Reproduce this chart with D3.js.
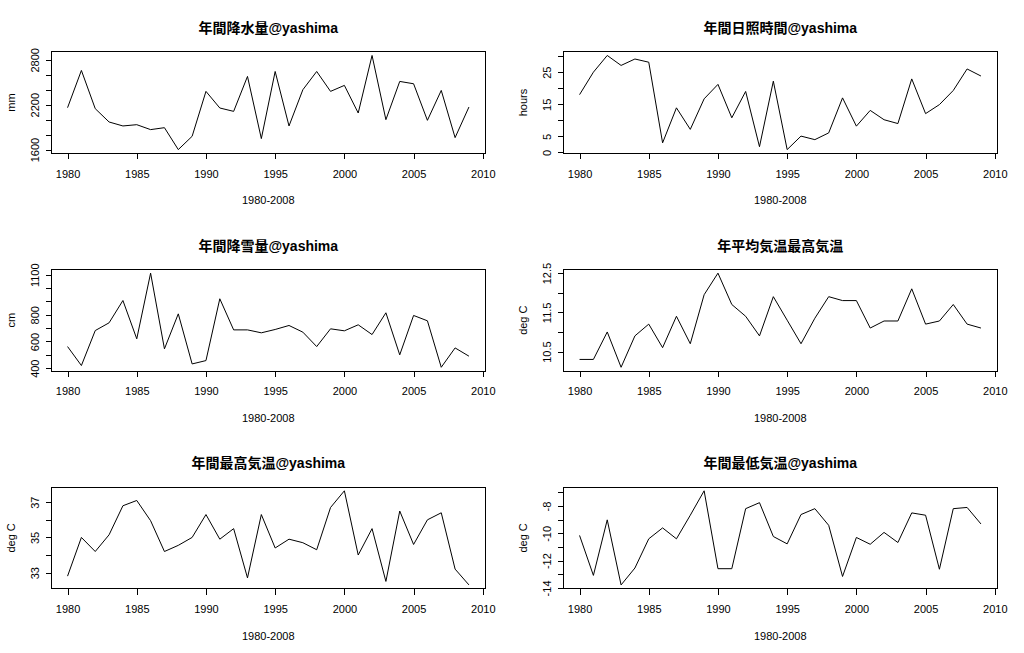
<!DOCTYPE html>
<html>
<head>
<meta charset="utf-8">
<script src="https://cdn.jsdelivr.net/npm/d3@7"></script>
<style>
  body { margin: 0; background: #fff; }
  text { font-family: "Liberation Sans", Arial, "Noto Sans CJK JP", sans-serif; fill: #000; }
  .title { font-family: "Liberation Sans", "Noto Sans CJK JP", sans-serif; font-weight: bold; font-size: 14px; }
</style>
</head>
<body>
<svg id="chart" width="1024" height="653"></svg>
<script>
// years 1980 - 2009
var years = d3.range(1980, 2010);

var rainfall = [2160, 2658, 2147, 1969, 1916, 1933, 1867, 1893, 1600, 1778,
                2378, 2156, 2111, 2578, 1747, 2644, 1916, 2400, 2644, 2378,
                2458, 2089, 2858, 2000, 2511, 2480, 1991, 2391, 1760, 2169];
var sunshine = [18.0, 25.0, 30.2, 27.1, 29.1, 28.1, 3.0, 13.9, 7.2, 16.7,
                21.2, 10.8, 19.0, 1.8, 22.2, 0.9, 5.1, 4.0, 6.1, 17.0,
                8.2, 13.1, 10.2, 9.0, 22.9, 12.1, 14.9, 19.3, 26.0, 23.8];
var snowfall = [562, 420, 682, 740, 907, 620, 1112, 545, 807, 432,
                457, 920, 687, 687, 665, 690, 720, 670, 562, 695,
                680, 725, 652, 815, 500, 795, 755, 407, 552, 490];
var meanTemp = [10.3, 10.3, 11.0, 10.1, 10.9, 11.2, 10.6, 11.4, 10.7, 11.95,
                12.5, 11.7, 11.4, 10.9, 11.9, 11.3, 10.7, 11.35, 11.9, 11.8,
                11.8, 11.1, 11.28, 11.28, 12.1, 11.2, 11.28, 11.7, 11.2, 11.1];
var maxTemp = [32.8, 35.0, 34.2, 35.15, 36.8, 37.1, 35.95, 34.2, 34.55, 35.0,
               36.3, 34.9, 35.5, 32.7, 36.3, 34.4, 34.9, 34.7, 34.3, 36.7,
               37.65, 34.0, 35.5, 32.5, 36.5, 34.6, 36.0, 36.4, 33.2, 32.3];
var minTemp = [-10.15, -13.08, -9.01, -13.78, -12.54, -10.4, -9.6, -10.4, -8.67, -6.88,
               -12.59, -12.59, -8.19, -7.75, -10.23, -10.77, -8.62, -8.19, -9.41, -13.16,
               -10.3, -10.8, -9.93, -10.67, -8.5, -8.67, -12.63, -8.19, -8.1, -9.31];

var xTicks = [1980, 1985, 1990, 1995, 2000, 2005, 2010];

var rainTicks = [1600, 1800, 2000, 2200, 2400, 2600, 2800];
var rainLabels = [1600, 2200, 2800];
var sunTicks = [0, 5, 10, 15, 20, 25, 30];
var sunLabels = [0, 5, 15, 25];
var snowTicks = [400, 500, 600, 700, 800, 900, 1000, 1100];
var snowLabels = [400, 600, 800, 1100];
var meanTicks = [10.5, 11.0, 11.5, 12.0, 12.5];
var meanLabels = [10.5, 11.5, 12.5];
var maxTicks = [33, 34, 35, 36, 37];
var maxLabels = [33, 35, 37];
var minTicks = [-14, -13, -12, -11, -10, -9, -8, -7];
var minLabels = [-14, -12, -10, -8];

var panels = [
  { title: "年間降水量@yashima", ylab: "mm", values: rainfall, ticks: rainTicks, labels: rainLabels },
  { title: "年間日照時間@yashima", ylab: "hours", values: sunshine, ticks: sunTicks, labels: sunLabels },
  { title: "年間降雪量@yashima", ylab: "cm", values: snowfall, ticks: snowTicks, labels: snowLabels },
  { title: "年平均気温最高気温", ylab: "deg C", values: meanTemp, ticks: meanTicks, labels: meanLabels },
  { title: "年間最高気温@yashima", ylab: "deg C", values: maxTemp, ticks: maxTicks, labels: maxLabels },
  { title: "年間最低気温@yashima", ylab: "deg C", values: minTemp, ticks: minTicks, labels: minLabels }
];

var cellW = 512, cellH = 653 / 3;
var margin = { top: 51.7, right: 27, bottom: 64.3, left: 51.5 };

var svg = d3.select("#chart");
svg.append("rect").attr("width", 1024).attr("height", 653).attr("fill", "#fff");

// R style: pad the data range by 4% on each side
function padded(ext) {
  var d = (ext[1] - ext[0]) * 0.04;
  return [ext[0] - d, ext[1] + d];
}

panels.forEach(function (p, i) {
  var col = i % 2, row = Math.floor(i / 2);
  var g = svg.append("g")
    .attr("transform", "translate(" + (col * cellW) + "," + (row * cellH) + ")");

  var x0 = margin.left, x1 = cellW - margin.right;
  var y0 = margin.top, y1 = cellH - margin.bottom;

  var x = d3.scaleLinear().domain(padded(d3.extent(years))).range([x0, x1]);
  var y = d3.scaleLinear().domain(padded(d3.extent(p.values))).range([y1, y0]);

  // data line
  var line = d3.line()
    .x(function (d, k) { return x(years[k]); })
    .y(function (d) { return y(d); });

  g.append("path")
    .datum(p.values)
    .attr("d", line)
    .attr("fill", "none")
    .attr("stroke", "#000")
    .attr("stroke-width", 1);

  // box
  g.append("rect")
    .attr("x", x0).attr("y", y0)
    .attr("width", x1 - x0).attr("height", y1 - y0)
    .attr("fill", "none").attr("stroke", "#000").attr("stroke-width", 1)
    .attr("shape-rendering", "crispEdges");

  // x axis
  var xa = g.append("g")
    .attr("transform", "translate(0," + y1 + ")")
    .call(d3.axisBottom(x).tickValues(xTicks).tickSize(6).tickPadding(10.5).tickFormat(d3.format("d")));
  xa.select(".domain").remove();
  xa.selectAll("line").attr("shape-rendering", "crispEdges");
  xa.selectAll("text").attr("font-size", 11).style("font-family", "'Liberation Sans', Arial, sans-serif");

  // y axis, rotated labels, some labels skipped like R does
  var ya = g.append("g")
    .attr("transform", "translate(" + x0 + ",0)")
    .call(d3.axisLeft(y).tickValues(p.ticks).tickSize(6)
      .tickFormat(function (d) { return p.labels.indexOf(d) >= 0 ? String(d) : ""; }));
  ya.select(".domain").remove();
  ya.selectAll("line").attr("shape-rendering", "crispEdges");
  ya.selectAll("text")
    .attr("x", null).attr("dy", null)
    .attr("text-anchor", "middle")
    .attr("transform", "translate(-12.7,0) rotate(-90)")
    .attr("font-size", 11)
    .style("font-family", "'Liberation Sans', Arial, sans-serif");

  // titles
  g.append("text")
    .attr("class", "title")
    .attr("x", (x0 + x1) / 2).attr("y", 33)
    .attr("text-anchor", "middle")
    .text(p.title);

  g.append("text")
    .attr("x", (x0 + x1) / 2).attr("y", y1 + 51)
    .attr("text-anchor", "middle")
    .attr("font-size", 11)
    .text("1980-2008");

  g.append("text")
    .attr("transform", "translate(15," + ((y0 + y1) / 2) + ") rotate(-90)")
    .attr("text-anchor", "middle")
    .attr("font-size", 11)
    .text(p.ylab);
});
</script>
</body>
</html>
